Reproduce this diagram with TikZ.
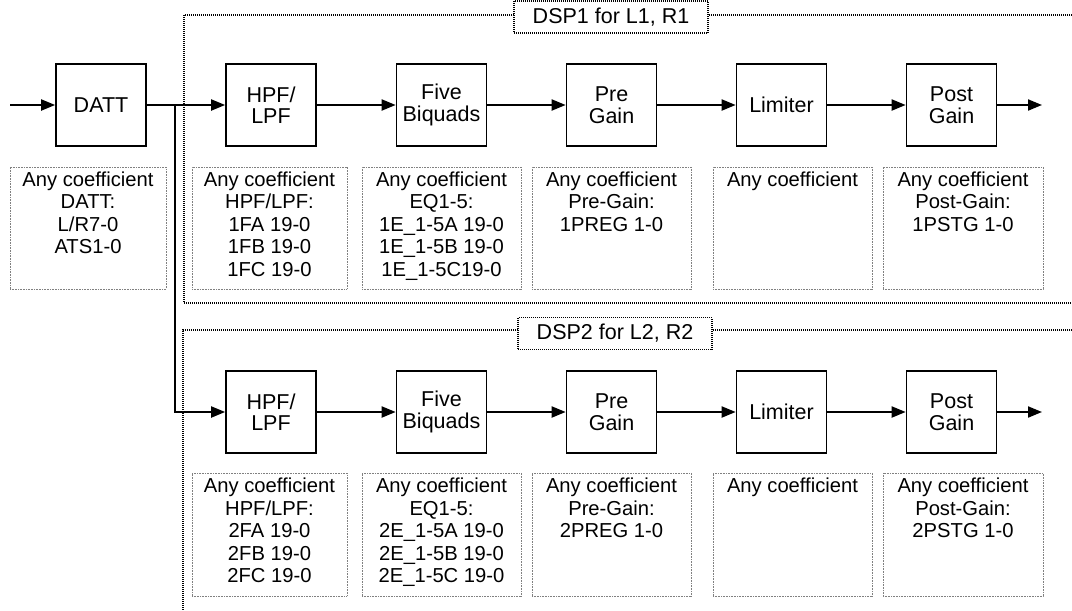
\documentclass[tikz,border=0pt]{standalone}
\usepackage{fontspec}
\setmainfont{Liberation Sans}
\usetikzlibrary{arrows.meta}
\begin{document}
\begin{tikzpicture}[x=1pt,y=-1pt,
  blk/.style={draw, line width=1.7pt, minimum width=90pt, minimum height=82pt, inner sep=0pt, align=center, font=\fontsize{21.5}{21.5}\selectfont},
  sig/.style={line width=2pt, -{Triangle[length=14pt,width=11pt]}},
  wire/.style={line width=2pt},
  cbox/.style={draw=gray, dash pattern=on 0.8pt off 0.8pt, line width=0.8pt, inner sep=0pt},
  ctext/.style={anchor=north, inner sep=0pt, align=center, font=\fontsize{20.2}{22.5}\selectfont},
  frame/.style={draw, dash pattern=on 1pt off 1pt, line width=1.1pt},
  dsplbl/.style={frame, fill=white, minimum width=194pt, minimum height=32pt, inner sep=0pt, font=\fontsize{21.5}{21.5}\selectfont}
]
\useasboundingbox (0,0) rectangle (1072,611);
\clip (0,0) rectangle (1072,611);

% frames
\draw[frame] (1080,15) -- (184,15) -- (184,303) -- (1080,303);
\draw[frame] (1080,330) -- (183,330) -- (183,620);
\node[dsplbl] (d1) at (611,17) {DSP1 for L1, R1};
\node[dsplbl] (d2) at (615,333.5) {DSP2 for L2, R2};

% blocks row 1
\node[blk] (datt) at (101,105) {DATT};
\node[blk] (h1) at (271,105) {HPF/\\LPF};
\node[blk] (f1) at (441.5,105) {Five\\Biquads};
\node[blk] (p1) at (611.5,105) {Pre\\Gain};
\node[blk] (l1) at (781.5,105) {Limiter};
\node[blk] (g1) at (951.5,105) {Post\\Gain};
% blocks row 2
\node[blk] (h2) at (271,412) {HPF/\\LPF};
\node[blk] (f2) at (441.5,412) {Five\\Biquads};
\node[blk] (p2) at (611.5,412) {Pre\\Gain};
\node[blk] (l2) at (781.5,412) {Limiter};
\node[blk] (g2) at (951.5,412) {Post\\Gain};

% connectors
\coordinate (in) at (10,105);
\coordinate (br) at (175,105);
\coordinate (o1) at (1042,105);
\coordinate (o2) at (1042,412);
\draw[sig] (in) -- (datt);
\draw[wire] (datt.east) -- (br);
\draw[sig] (br) -- (h1);
\draw[sig] (br) |- (h2);
\draw[sig] (h1) -- (f1);
\draw[sig] (f1) -- (p1);
\draw[sig] (p1) -- (l1);
\draw[sig] (l1) -- (g1);
\draw[sig] (g1) -- (o1);
\draw[sig] (h2) -- (f2);
\draw[sig] (f2) -- (p2);
\draw[sig] (p2) -- (l2);
\draw[sig] (l2) -- (g2);
\draw[sig] (g2) -- (o2);

% coefficient boxes row 1
\node[cbox, minimum width=156pt, minimum height=122pt] (c0) at (88,228) {};
\node[cbox, minimum width=155pt, minimum height=122pt] (c1) at (269.5,228) {};
\node[cbox, minimum width=159pt, minimum height=122pt] (c2) at (441.5,228) {};
\node[cbox, minimum width=159pt, minimum height=122pt] (c3) at (611.5,228) {};
\node[cbox, minimum width=159pt, minimum height=122pt] (c4) at (792.5,228) {};
\node[cbox, minimum width=160pt, minimum height=122pt] (c5) at (963,228) {};
\node[ctext] (t0) at (88,171.5) {Any coefficient\\DATT:\\L/R7-0\\ATS1-0};
\node[ctext] (t1) at (269.5,171.5) {Any coefficient\\HPF/LPF:\\1FA 19-0\\1FB 19-0\\1FC 19-0};
\node[ctext] (t2) at (441.5,171.5) {Any coefficient\\EQ1-5:\\1E\_1-5A 19-0\\1E\_1-5B 19-0\\1E\_1-5C19-0};
\node[ctext] (t3) at (611.5,171.5) {Any coefficient\\Pre-Gain:\\1PREG 1-0};
\node[ctext] (t4) at (792.5,171.5) {Any coefficient};
\node[ctext] (t5) at (963,171.5) {Any coefficient\\Post-Gain:\\1PSTG 1-0};

% coefficient boxes row 2
\node[cbox, minimum width=155pt, minimum height=123pt] (e1) at (269.5,534.5) {};
\node[cbox, minimum width=159pt, minimum height=123pt] (e2) at (441.5,534.5) {};
\node[cbox, minimum width=159pt, minimum height=123pt] (e3) at (611.5,534.5) {};
\node[cbox, minimum width=159pt, minimum height=123pt] (e4) at (792.5,534.5) {};
\node[cbox, minimum width=160pt, minimum height=123pt] (e5) at (963,534.5) {};
\node[ctext] (s1) at (269.5,478) {Any coefficient\\HPF/LPF:\\2FA 19-0\\2FB 19-0\\2FC 19-0};
\node[ctext] (s2) at (441.5,478) {Any coefficient\\EQ1-5:\\2E\_1-5A 19-0\\2E\_1-5B 19-0\\2E\_1-5C 19-0};
\node[ctext] (s3) at (611.5,478) {Any coefficient\\Pre-Gain:\\2PREG 1-0};
\node[ctext] (s4) at (792.5,478) {Any coefficient};
\node[ctext] (s5) at (963,478) {Any coefficient\\Post-Gain:\\2PSTG 1-0};
\end{tikzpicture}
\end{document}
